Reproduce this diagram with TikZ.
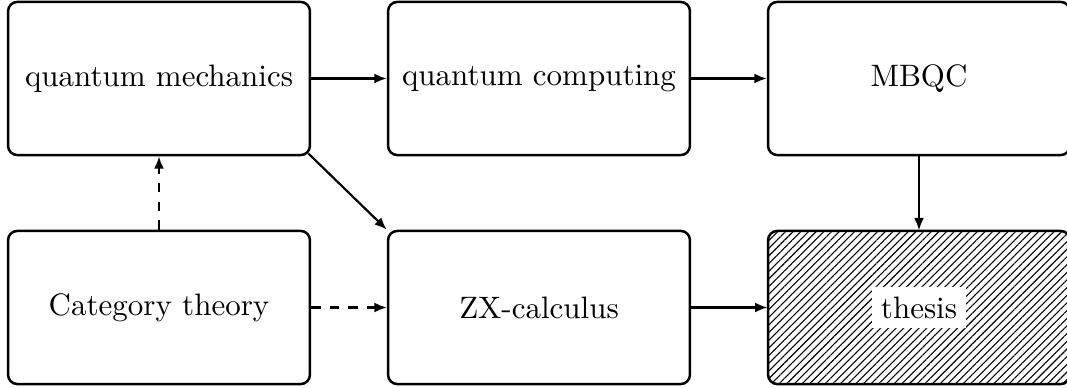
\documentclass[tikz,border=0pt]{standalone}
\usetikzlibrary{arrows.meta,patterns.meta}
\begin{document}
\begin{tikzpicture}[x=0.3226pt,y=-0.3226pt,
  box/.style={draw,line width=0.8pt,rounded corners=3pt,minimum width=97.4pt,minimum height=49.4pt,inner sep=0pt},
  arr/.style={line width=0.7pt,-{Latex[length=4pt,width=3.2pt]}},
  darr/.style={arr,dash pattern=on 3pt off 3pt}]
\useasboundingbox (0,0) rectangle (1067,388);
\node[box] (qm) at (159,78.5) {quantum mechanics};
\node[box] (qc) at (539,78.5) {quantum computing};
\node[box] (mb) at (919,78.5) {MBQC};
\node[box] (ct) at (159,307.5) {Category theory};
\node[box] (zx) at (539,307.5) {ZX-calculus};
\node[box,pattern={Lines[angle=45,distance=1.75pt,line width=0.35pt]}] (th) at (919,307.5) {};
\node[fill=white,inner sep=3pt] (thl) at (th.center) {thesis};
\coordinate (qmc) at ([xshift=-0.9pt,yshift=0.9pt]qm.south east);
\draw[arr] (qm) -- (qc);
\draw[arr] (qc) -- (mb);
\draw[arr] (mb) -- (th);
\draw[arr] (qmc) -- (zx.north west);
\draw[darr] (ct) -- (qm);
\draw[darr] (ct) -- (zx);
\draw[arr] (zx) -- (th);
\end{tikzpicture}
\end{document}
